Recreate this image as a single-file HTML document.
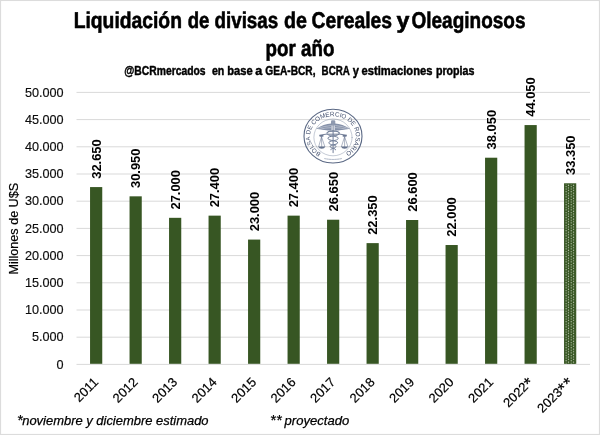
<!DOCTYPE html>
<html><head><meta charset="utf-8"><title>Liquidación de divisas</title>
<style>html,body{margin:0;padding:0;background:#fff;}body{width:600px;height:435px;overflow:hidden;}svg{display:block;will-change:transform;font-family:"Liberation Sans",sans-serif;}</style></head><body>
<svg width="600" height="435" viewBox="0 0 600 435">
<defs><pattern id="dots" patternUnits="userSpaceOnUse" x="564.85" y="183.3" width="5.06" height="2.6"><rect width="5.06" height="2.6" fill="#375623"/><circle cx="1.25" cy="0.65" r="0.55" fill="#dfe8d6"/><circle cx="3.78" cy="1.95" r="0.55" fill="#dfe8d6"/></pattern></defs>
<rect x="0" y="0" width="600" height="435" fill="#ffffff"/>
<rect x="0.55" y="0.5" width="598.9" height="433.95" fill="none" stroke="#dcdcdc" stroke-width="1.1"/>
<g fill="#000" font-weight="bold" stroke="#000" stroke-width="0.6" stroke-linejoin="round" text-rendering="geometricPrecision">
<text x="73.70" y="28" font-size="22.8" textLength="108.25" lengthAdjust="spacingAndGlyphs">Liquidación</text>
<text x="187.75" y="28" font-size="22.8" textLength="21.70" lengthAdjust="spacingAndGlyphs">de</text>
<text x="214.50" y="28" font-size="22.8" textLength="63.70" lengthAdjust="spacingAndGlyphs">divisas</text>
<text x="284.00" y="28" font-size="22.8" textLength="22.95" lengthAdjust="spacingAndGlyphs">de</text>
<text x="311.50" y="28" font-size="22.8" textLength="80.45" lengthAdjust="spacingAndGlyphs">Cereales</text>
<text x="396.50" y="28" font-size="22.8" textLength="12.95" lengthAdjust="spacingAndGlyphs">y</text>
<text x="411.50" y="28" font-size="22.8" textLength="114.00" lengthAdjust="spacingAndGlyphs">Oleaginosos</text>
<text x="265.6" y="56" font-size="22.8" textLength="68.8" lengthAdjust="spacingAndGlyphs">por año</text>
</g>
<g fill="#000" font-weight="bold" font-size="12.5" stroke="#000" stroke-width="0.45" stroke-linejoin="round">
<text x="124.3" y="75.1" textLength="81.2" lengthAdjust="spacingAndGlyphs">@BCRmercados</text>
<text x="211.9" y="75.1" textLength="12.4" lengthAdjust="spacingAndGlyphs">en</text>
<text x="227.3" y="75.1" textLength="25.4" lengthAdjust="spacingAndGlyphs">base</text>
<text x="255.2" y="75.1" textLength="7.0" lengthAdjust="spacingAndGlyphs">a</text>
<text x="265.3" y="75.1" textLength="50.2" lengthAdjust="spacingAndGlyphs">GEA-BCR,</text>
<text x="321.6" y="75.1" textLength="28.2" lengthAdjust="spacingAndGlyphs">BCRA</text>
<text x="352.8" y="75.1" textLength="6.2" lengthAdjust="spacingAndGlyphs">y</text>
<text x="361.6" y="75.1" textLength="70.8" lengthAdjust="spacingAndGlyphs">estimaciones</text>
<text x="435.9" y="75.1" textLength="38.5" lengthAdjust="spacingAndGlyphs">propias</text>
</g>
<g stroke="#d9d9d9" stroke-width="1">
<line x1="76.5" x2="590.0" y1="92.40" y2="92.40"/>
<line x1="76.5" x2="590.0" y1="119.60" y2="119.60"/>
<line x1="76.5" x2="590.0" y1="146.80" y2="146.80"/>
<line x1="76.5" x2="590.0" y1="174.00" y2="174.00"/>
<line x1="76.5" x2="590.0" y1="201.20" y2="201.20"/>
<line x1="76.5" x2="590.0" y1="228.40" y2="228.40"/>
<line x1="76.5" x2="590.0" y1="255.60" y2="255.60"/>
<line x1="76.5" x2="590.0" y1="282.80" y2="282.80"/>
<line x1="76.5" x2="590.0" y1="310.00" y2="310.00"/>
<line x1="76.5" x2="590.0" y1="337.20" y2="337.20"/>
<line x1="76.5" x2="590.0" y1="364.40" y2="364.40"/>
</g>
<g fill="#0d0d0d" font-size="12" text-anchor="end" stroke="#0d0d0d" stroke-width="0.15">
<text transform="translate(63.6 97) scale(1.055 1)">50.000</text>
<text transform="translate(63.6 124) scale(1.055 1)">45.000</text>
<text transform="translate(63.6 151) scale(1.055 1)">40.000</text>
<text transform="translate(63.6 178) scale(1.055 1)">35.000</text>
<text transform="translate(63.6 205) scale(1.055 1)">30.000</text>
<text transform="translate(63.6 233) scale(1.055 1)">25.000</text>
<text transform="translate(63.6 260) scale(1.055 1)">20.000</text>
<text transform="translate(63.6 287) scale(1.055 1)">15.000</text>
<text transform="translate(63.6 314) scale(1.055 1)">10.000</text>
<text transform="translate(63.6 341) scale(1.055 1)">5.000</text>
<text transform="translate(63.6 369) scale(1.055 1)">0</text>
</g>
<text transform="translate(18.3 274.5) rotate(-90)" font-size="12.6" fill="#000" stroke="#000" stroke-width="0.2" textLength="91.6" lengthAdjust="spacingAndGlyphs">Millones de U$S</text>
<g id="logo" fill="none" stroke="#56647f" stroke-linecap="round" stroke-linejoin="round">
<ellipse cx="333" cy="136.15" rx="29" ry="26.85" stroke-width="1.1" stroke="#5a6884"/>
<ellipse cx="333" cy="137.4" rx="19.1" ry="18.4" stroke-width="0.45" stroke="#7c88a0"/>
<g transform="translate(333 136.1)">
<path id="lgp" d="M -11.97 16.97 A 22.9 19.9 0 1 1 13.13 16.30" stroke="none"/>
<text font-size="6.3" fill="#455270" stroke="none" font-family="Liberation Sans, sans-serif"><textPath href="#lgp" textLength="108.4" lengthAdjust="spacingAndGlyphs">BOLSA DE COMERCIO DE ROSARIO</textPath></text>
</g>
<!-- small text bottom -->
<path d="M324.6 158.6 Q333 160.3 341.6 158.6" stroke-width="0.7" stroke="#9aa4b7" stroke-dasharray="1.1 0.5"/>
<!-- staff -->
<path d="M333.1 125 L333.1 151.2 M333.1 151.2 L333.1 152.6" stroke-width="1.1" stroke="#7d89a2"/>
<rect x="331" y="120.3" width="4.3" height="5.2" rx="1.2" fill="#8f9ab0" stroke="none"/>
<!-- wings -->
<path d="M331.6 123.6 C327 123.4 321 126 316.2 128.7 C320 129.8 324 129.6 326.5 130.2 C328.5 130.8 330.5 130.6 331.6 130 Z" fill="#8591a9" stroke="none"/>
<path d="M334.6 123.6 C339.2 123.4 345.2 126 350 128.7 C346.2 129.8 342.2 129.6 339.7 130.2 C337.7 130.8 335.7 130.6 334.6 130 Z" fill="#8591a9" stroke="none"/>
<path d="M318 128.3 Q324 126.2 330.5 125.6 M320 129.2 Q325 127.8 330.8 127.6 M348.2 128.3 Q342.2 126.2 335.7 125.6 M346.2 129.2 Q341.2 127.8 335.4 127.6" stroke="#e6e9ef" stroke-width="0.45"/>
<!-- beam -->
<path d="M319.6 135.2 Q326 133.6 333 134.2 Q340 133.6 346.6 135.2" stroke-width="0.9" stroke="#65738f"/>
<!-- left scale -->
<rect x="319.6" y="135" width="3.8" height="1.7" fill="#6a7792" stroke="none"/>
<path d="M321.5 136.8 L318.7 146.6 M321.5 136.8 L324.8 146.6 M321.5 136.8 L321.7 146.6" stroke-width="0.55" stroke="#6a7792"/>
<path d="M318.1 146.4 L325.3 146.4 Q324.6 148.8 321.7 148.8 Q318.8 148.8 318.1 146.4 Z" fill="#66748f" stroke="none"/>
<!-- right scale -->
<rect x="342.7" y="135" width="3.8" height="1.7" fill="#6a7792" stroke="none"/>
<path d="M344.6 136.8 L341.4 146.6 M344.6 136.8 L347.9 146.6 M344.6 136.8 L344.6 146.6" stroke-width="0.55" stroke="#6a7792"/>
<path d="M341 146.4 L348.2 146.4 Q347.5 148.8 344.6 148.8 Q341.7 148.8 341 146.4 Z" fill="#66748f" stroke="none"/>
<!-- snakes -->
<path d="M327 132.5 C327 130.2 339.5 130.2 339.3 133.2 C339 136.6 327.5 135.4 328 138.4 C328.5 141.2 338 140.2 337.6 142.8 C337.2 145.2 329.8 144.4 330.2 146.6 C330.6 148.6 336 148 335.6 149.8" stroke-width="1" stroke="#66748f"/>
<path d="M339.2 132.5 C339.2 130.6 326.8 130.4 327 133.4 C327.3 136.6 338.6 135.6 338.2 138.4 C337.8 141.2 328.4 140.4 328.8 142.9 C329.2 145.2 336.4 144.4 336 146.6 C335.6 148.6 330.4 148 330.8 149.8" stroke-width="1" stroke="#7a87a0"/>
</g>

<rect x="90.05" y="187.08" width="12.2" height="176.72" fill="#375623"/>
<rect x="129.55" y="196.33" width="12.2" height="167.47" fill="#375623"/>
<rect x="169.05" y="217.82" width="12.2" height="145.98" fill="#375623"/>
<rect x="208.55" y="215.64" width="12.2" height="148.16" fill="#375623"/>
<rect x="248.05" y="239.58" width="12.2" height="124.22" fill="#375623"/>
<rect x="287.55" y="215.64" width="12.2" height="148.16" fill="#375623"/>
<rect x="327.05" y="219.72" width="12.2" height="144.08" fill="#375623"/>
<rect x="366.55" y="243.12" width="12.2" height="120.68" fill="#375623"/>
<rect x="406.05" y="220.00" width="12.2" height="143.80" fill="#375623"/>
<rect x="445.55" y="245.02" width="12.2" height="118.78" fill="#375623"/>
<rect x="485.05" y="157.71" width="12.2" height="206.09" fill="#375623"/>
<rect x="524.55" y="125.07" width="12.2" height="238.73" fill="#375623"/>
<rect x="564.05" y="183.28" width="12.2" height="180.52" fill="#375623"/>
<rect x="564.85" y="184.18" width="10.6" height="179.62" fill="url(#dots)"/>
<g fill="#000" font-size="13" font-weight="bold">
<text transform="translate(100.85 178.78) rotate(-90)" textLength="39.5" lengthAdjust="spacingAndGlyphs">32.650</text>
<text transform="translate(140.35 188.03) rotate(-90)" textLength="39.5" lengthAdjust="spacingAndGlyphs">30.950</text>
<text transform="translate(179.85 209.52) rotate(-90)" textLength="39.5" lengthAdjust="spacingAndGlyphs">27.000</text>
<text transform="translate(219.35 207.34) rotate(-90)" textLength="39.5" lengthAdjust="spacingAndGlyphs">27.400</text>
<text transform="translate(258.85 231.28) rotate(-90)" textLength="39.5" lengthAdjust="spacingAndGlyphs">23.000</text>
<text transform="translate(298.35 207.34) rotate(-90)" textLength="39.5" lengthAdjust="spacingAndGlyphs">27.400</text>
<text transform="translate(337.85 211.42) rotate(-90)" textLength="39.5" lengthAdjust="spacingAndGlyphs">26.650</text>
<text transform="translate(377.35 234.82) rotate(-90)" textLength="39.5" lengthAdjust="spacingAndGlyphs">22.350</text>
<text transform="translate(416.85 211.70) rotate(-90)" textLength="39.5" lengthAdjust="spacingAndGlyphs">26.600</text>
<text transform="translate(456.35 236.72) rotate(-90)" textLength="39.5" lengthAdjust="spacingAndGlyphs">22.000</text>
<text transform="translate(495.85 149.41) rotate(-90)" textLength="39.5" lengthAdjust="spacingAndGlyphs">38.050</text>
<text transform="translate(535.35 116.77) rotate(-90)" textLength="39.5" lengthAdjust="spacingAndGlyphs">44.050</text>
<text transform="translate(574.85 174.98) rotate(-90)" textLength="39.5" lengthAdjust="spacingAndGlyphs">33.350</text>
</g>
<g fill="#000" font-size="13" text-anchor="end" stroke="#000" stroke-width="0.2">
<text transform="translate(99.05 383.0) rotate(-45)" x="0">2011</text>
<text transform="translate(138.55 383.0) rotate(-45)" x="0">2012</text>
<text transform="translate(178.05 383.0) rotate(-45)" x="0">2013</text>
<text transform="translate(217.55 383.0) rotate(-45)" x="0">2014</text>
<text transform="translate(257.05 383.0) rotate(-45)" x="0">2015</text>
<text transform="translate(296.55 383.0) rotate(-45)" x="0">2016</text>
<text transform="translate(336.05 383.0) rotate(-45)" x="0">2017</text>
<text transform="translate(375.55 383.0) rotate(-45)" x="0">2018</text>
<text transform="translate(415.05 383.0) rotate(-45)" x="0">2019</text>
<text transform="translate(454.55 383.0) rotate(-45)" x="0">2020</text>
<text transform="translate(494.05 383.0) rotate(-45)" x="0">2021</text>
<text transform="translate(533.55 383.0) rotate(-45)" x="1.2">2022<tspan font-size="17.5" dy="2.6" letter-spacing="0.9">*</tspan></text>
<text transform="translate(573.05 383.0) rotate(-45)" x="1.2">2023<tspan font-size="17.5" dy="2.6" letter-spacing="0.9">**</tspan></text>
</g>
<g fill="#000" font-size="13.1" font-style="italic" stroke="#000" stroke-width="0.25">
<text x="16.9" y="425" font-size="14.6">*</text>
<text x="22.2" y="424.6" textLength="186.4" lengthAdjust="spacingAndGlyphs">noviembre y diciembre estimado</text>
<text x="269.9" y="425" font-size="14.6" letter-spacing="0.5">**</text>
<text x="284.6" y="424.6" textLength="64.6" lengthAdjust="spacingAndGlyphs">proyectado</text>
</g>
</svg></body></html>
